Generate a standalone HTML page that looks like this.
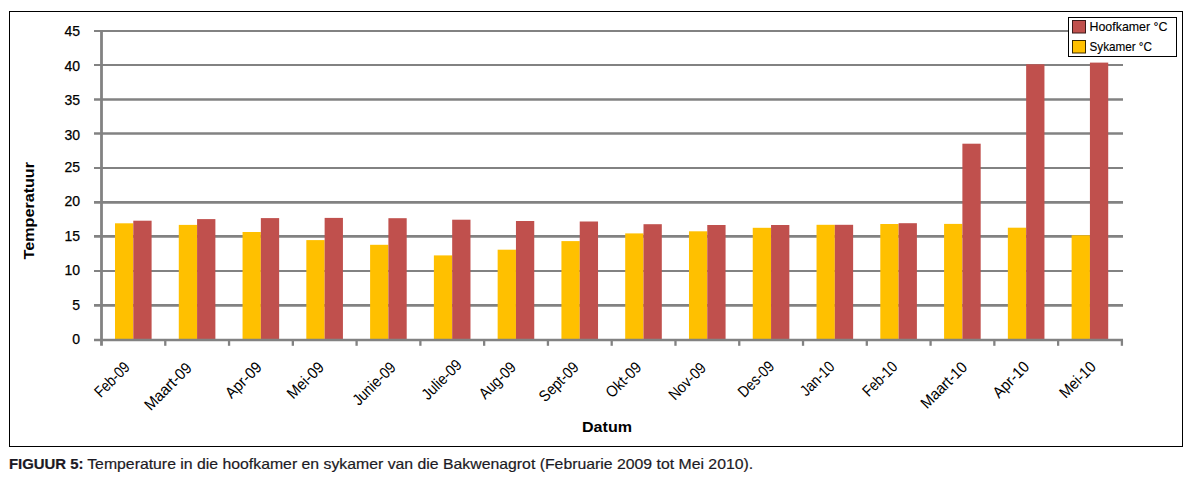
<!DOCTYPE html>
<html><head><meta charset="utf-8"><title>Figuur 5</title>
<style>
html,body{margin:0;padding:0;background:#fff;width:1189px;height:479px;overflow:hidden}
svg{display:block}
text{font-family:"Liberation Sans",Arial,sans-serif;fill:#000}
.ax{font-size:14px;stroke:#000;stroke-width:0.25px}
.xl{font-size:15.8px}
.tt{font-size:15.5px;font-weight:bold}
.lg{font-size:13.6px;stroke:#000;stroke-width:0.15px}
.cap{font-size:15px;fill:#1c1a24;stroke:#1c1a24;stroke-width:0.2px}
</style></head><body>
<svg width="1189" height="479" viewBox="0 0 1189 479">
<rect width="1189" height="479" fill="#fff"/>
<line x1="94" y1="339.96" x2="1123.00" y2="339.96" stroke="#828282" stroke-width="2.1"/>
<line x1="94" y1="305.40" x2="1123.00" y2="305.40" stroke="#828282" stroke-width="2.6"/>
<line x1="94" y1="270.95" x2="1123.00" y2="270.95" stroke="#828282" stroke-width="2.1"/>
<line x1="94" y1="236.40" x2="1123.00" y2="236.40" stroke="#828282" stroke-width="2.6"/>
<line x1="94" y1="202.40" x2="1123.00" y2="202.40" stroke="#828282" stroke-width="2.6"/>
<line x1="94" y1="167.95" x2="1123.00" y2="167.95" stroke="#828282" stroke-width="2.1"/>
<line x1="94" y1="133.50" x2="1123.00" y2="133.50" stroke="#828282" stroke-width="2.6"/>
<line x1="94" y1="99.50" x2="1123.00" y2="99.50" stroke="#828282" stroke-width="2.6"/>
<line x1="94" y1="64.95" x2="1123.00" y2="64.95" stroke="#828282" stroke-width="2.1"/>
<line x1="94" y1="30.95" x2="1123.00" y2="30.95" stroke="#828282" stroke-width="2.1"/>
<rect x="115.00" y="223.30" width="18.3" height="116.66" fill="#FFC000"/>
<rect x="133.30" y="220.70" width="18.3" height="119.26" fill="#C0504D"/>
<rect x="178.78" y="224.90" width="18.3" height="115.06" fill="#FFC000"/>
<rect x="197.08" y="219.10" width="18.3" height="120.86" fill="#C0504D"/>
<rect x="242.55" y="232.00" width="18.3" height="107.96" fill="#FFC000"/>
<rect x="260.85" y="218.10" width="18.3" height="121.86" fill="#C0504D"/>
<rect x="306.33" y="240.10" width="18.3" height="99.86" fill="#FFC000"/>
<rect x="324.63" y="217.90" width="18.3" height="122.06" fill="#C0504D"/>
<rect x="370.10" y="244.80" width="18.3" height="95.16" fill="#FFC000"/>
<rect x="388.40" y="218.20" width="18.3" height="121.76" fill="#C0504D"/>
<rect x="433.88" y="255.40" width="18.3" height="84.56" fill="#FFC000"/>
<rect x="452.18" y="219.70" width="18.3" height="120.26" fill="#C0504D"/>
<rect x="497.65" y="249.70" width="18.3" height="90.26" fill="#FFC000"/>
<rect x="515.95" y="221.00" width="18.3" height="118.96" fill="#C0504D"/>
<rect x="561.43" y="241.10" width="18.3" height="98.86" fill="#FFC000"/>
<rect x="579.73" y="221.50" width="18.3" height="118.46" fill="#C0504D"/>
<rect x="625.20" y="233.40" width="18.3" height="106.56" fill="#FFC000"/>
<rect x="643.50" y="224.20" width="18.3" height="115.76" fill="#C0504D"/>
<rect x="688.98" y="231.30" width="18.3" height="108.66" fill="#FFC000"/>
<rect x="707.27" y="225.00" width="18.3" height="114.96" fill="#C0504D"/>
<rect x="752.75" y="227.80" width="18.3" height="112.16" fill="#FFC000"/>
<rect x="771.05" y="225.00" width="18.3" height="114.96" fill="#C0504D"/>
<rect x="816.53" y="224.80" width="18.3" height="115.16" fill="#FFC000"/>
<rect x="834.83" y="224.80" width="18.3" height="115.16" fill="#C0504D"/>
<rect x="880.30" y="224.00" width="18.3" height="115.96" fill="#FFC000"/>
<rect x="898.60" y="223.20" width="18.3" height="116.76" fill="#C0504D"/>
<rect x="944.08" y="223.90" width="18.3" height="116.06" fill="#FFC000"/>
<rect x="962.38" y="143.70" width="18.3" height="196.26" fill="#C0504D"/>
<rect x="1007.85" y="227.70" width="18.3" height="112.26" fill="#FFC000"/>
<rect x="1026.15" y="64.30" width="18.3" height="275.66" fill="#C0504D"/>
<rect x="1071.62" y="235.30" width="18.3" height="104.66" fill="#FFC000"/>
<rect x="1089.92" y="62.60" width="18.3" height="277.36" fill="#C0504D"/>
<line x1="94" y1="339.96" x2="1123.00" y2="339.96" stroke="#828282" stroke-width="2.4"/>
<line x1="165.28" y1="339.96" x2="165.28" y2="345.8" stroke="#828282" stroke-width="2.3"/>
<line x1="229.05" y1="339.96" x2="229.05" y2="345.8" stroke="#828282" stroke-width="2.3"/>
<line x1="292.83" y1="339.96" x2="292.83" y2="345.8" stroke="#828282" stroke-width="2.3"/>
<line x1="356.60" y1="339.96" x2="356.60" y2="345.8" stroke="#828282" stroke-width="2.3"/>
<line x1="420.38" y1="339.96" x2="420.38" y2="345.8" stroke="#828282" stroke-width="2.3"/>
<line x1="484.15" y1="339.96" x2="484.15" y2="345.8" stroke="#828282" stroke-width="2.3"/>
<line x1="547.93" y1="339.96" x2="547.93" y2="345.8" stroke="#828282" stroke-width="2.3"/>
<line x1="611.70" y1="339.96" x2="611.70" y2="345.8" stroke="#828282" stroke-width="2.3"/>
<line x1="675.48" y1="339.96" x2="675.48" y2="345.8" stroke="#828282" stroke-width="2.3"/>
<line x1="739.25" y1="339.96" x2="739.25" y2="345.8" stroke="#828282" stroke-width="2.3"/>
<line x1="803.03" y1="339.96" x2="803.03" y2="345.8" stroke="#828282" stroke-width="2.3"/>
<line x1="866.80" y1="339.96" x2="866.80" y2="345.8" stroke="#828282" stroke-width="2.3"/>
<line x1="930.58" y1="339.96" x2="930.58" y2="345.8" stroke="#828282" stroke-width="2.3"/>
<line x1="994.35" y1="339.96" x2="994.35" y2="345.8" stroke="#828282" stroke-width="2.3"/>
<line x1="1058.12" y1="339.96" x2="1058.12" y2="345.8" stroke="#828282" stroke-width="2.3"/>
<line x1="1121.90" y1="339.96" x2="1121.90" y2="345.8" stroke="#828282" stroke-width="2.3"/>
<line x1="101.50" y1="30" x2="101.50" y2="345.8" stroke="#828282" stroke-width="2.8"/>
<text x="80" y="344.00" text-anchor="end" class="ax">0</text>
<text x="80" y="310.00" text-anchor="end" class="ax">5</text>
<text x="80" y="275.00" text-anchor="end" class="ax">10</text>
<text x="80" y="241.00" text-anchor="end" class="ax">15</text>
<text x="80" y="206.00" text-anchor="end" class="ax">20</text>
<text x="80" y="172.00" text-anchor="end" class="ax">25</text>
<text x="80" y="139.85" text-anchor="end" class="ax">30</text>
<text x="80" y="104.90" text-anchor="end" class="ax">35</text>
<text x="80" y="70.90" text-anchor="end" class="ax">40</text>
<text x="80" y="35.90" text-anchor="end" class="ax">45</text>
<text x="130.73" y="368.24" text-anchor="end" class="xl" textLength="42.33" lengthAdjust="spacingAndGlyphs" transform="rotate(-45 130.73 368.24)">Feb-09</text>
<text x="192.78" y="369.04" text-anchor="end" class="xl" textLength="59.58" lengthAdjust="spacingAndGlyphs" transform="rotate(-45 192.78 369.04)">Maart-09</text>
<text x="262.67" y="368.24" text-anchor="end" class="xl" textLength="43.90" lengthAdjust="spacingAndGlyphs" transform="rotate(-45 262.67 368.24)">Apr-09</text>
<text x="324.88" y="368.24" text-anchor="end" class="xl" textLength="44.61" lengthAdjust="spacingAndGlyphs" transform="rotate(-45 324.88 368.24)">Mei-09</text>
<text x="396.86" y="368.40" text-anchor="end" class="xl" textLength="53.70" lengthAdjust="spacingAndGlyphs" transform="rotate(-45 396.86 368.40)">Junie-09</text>
<text x="462.91" y="365.84" text-anchor="end" class="xl" textLength="49.48" lengthAdjust="spacingAndGlyphs" transform="rotate(-45 462.91 365.84)">Julie-09</text>
<text x="516.96" y="368.24" text-anchor="end" class="xl" textLength="44.75" lengthAdjust="spacingAndGlyphs" transform="rotate(-45 516.96 368.24)">Aug-09</text>
<text x="579.81" y="368.24" text-anchor="end" class="xl" textLength="48.70" lengthAdjust="spacingAndGlyphs" transform="rotate(-45 579.81 368.24)">Sept-09</text>
<text x="642.51" y="368.40" text-anchor="end" class="xl" textLength="42.98" lengthAdjust="spacingAndGlyphs" transform="rotate(-45 642.51 368.40)">Okt-09</text>
<text x="706.96" y="369.04" text-anchor="end" class="xl" textLength="45.30" lengthAdjust="spacingAndGlyphs" transform="rotate(-45 706.96 369.04)">Nov-09</text>
<text x="775.25" y="367.44" text-anchor="end" class="xl" textLength="43.72" lengthAdjust="spacingAndGlyphs" transform="rotate(-45 775.25 367.44)">Des-09</text>
<text x="835.70" y="367.76" text-anchor="end" class="xl" textLength="41.35" lengthAdjust="spacingAndGlyphs" transform="rotate(-45 835.70 367.76)">Jan-10</text>
<text x="898.56" y="367.76" text-anchor="end" class="xl" textLength="42.21" lengthAdjust="spacingAndGlyphs" transform="rotate(-45 898.56 367.76)">Feb-10</text>
<text x="968.13" y="368.24" text-anchor="end" class="xl" textLength="58.22" lengthAdjust="spacingAndGlyphs" transform="rotate(-45 968.13 368.24)">Maart-10</text>
<text x="1030.34" y="367.76" text-anchor="end" class="xl" textLength="44.13" lengthAdjust="spacingAndGlyphs" transform="rotate(-45 1030.34 367.76)">Apr-10</text>
<text x="1097.03" y="367.76" text-anchor="end" class="xl" textLength="44.28" lengthAdjust="spacingAndGlyphs" transform="rotate(-45 1097.03 367.76)">Mei-10</text>
<text x="34.4" y="210.7" text-anchor="middle" class="tt" transform="rotate(-90 34.4 210.7)" textLength="97.4" lengthAdjust="spacingAndGlyphs">Temperatuur</text>
<text x="582" y="432" class="tt" textLength="50" lengthAdjust="spacingAndGlyphs">Datum</text>
<rect x="1068.5" y="17.5" width="108" height="39" fill="#fff" stroke="#000" stroke-width="1"/>
<rect x="1072.5" y="20.5" width="13" height="12.5" fill="#C0504D" stroke="#3a1a1a" stroke-width="1"/>
<rect x="1072.5" y="40.5" width="13" height="12.5" fill="#FFC000" stroke="#3a2a00" stroke-width="1"/>
<text x="1089.5" y="30.6" class="lg" textLength="78" lengthAdjust="spacingAndGlyphs">Hoofkamer °C</text>
<text x="1089.5" y="50.7" class="lg" textLength="62.5" lengthAdjust="spacingAndGlyphs">Sykamer °C</text>
<rect x="9.5" y="11.5" width="1173" height="435" fill="none" stroke="#000" stroke-width="1"/>
<text x="8.9" y="469" class="cap" font-weight="bold" textLength="74.6" lengthAdjust="spacingAndGlyphs">FIGUUR 5:</text>
<text x="87.2" y="469" class="cap" textLength="666" lengthAdjust="spacingAndGlyphs">Temperature in die hoofkamer en sykamer van die Bakwenagrot (Februarie 2009 tot Mei 2010).</text>
</svg>
</body></html>
